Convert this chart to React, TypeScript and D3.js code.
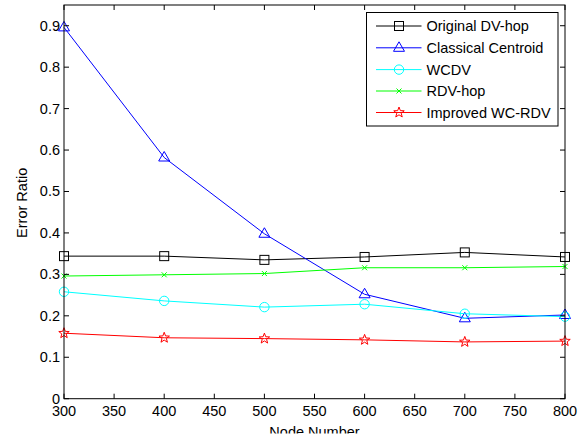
import React from "react";
import * as d3 from "d3";

const nodeNumbers = [300, 400, 500, 600, 700, 800];
const originalDVhop = [0.344, 0.344, 0.335, 0.342, 0.353, 0.342];
const classicalCentroid = [0.896, 0.582, 0.398, 0.252, 0.194, 0.202];
const wcdv = [0.258, 0.236, 0.221, 0.228, 0.205, 0.198];
const rdvHop = [0.296, 0.299, 0.302, 0.316, 0.316, 0.319];
const improvedWCRDV = [0.158, 0.147, 0.145, 0.142, 0.137, 0.139];

const xTicks = [300, 350, 400, 450, 500, 550, 600, 650, 700, 750, 800];
const yTicks = [0, 0.1, 0.2, 0.3, 0.4, 0.5, 0.6, 0.7, 0.8, 0.9];

const seriesList = [
  { name: "Original DV-hop", values: originalDVhop, color: "#000000", marker: "square" },
  { name: "Classical Centroid", values: classicalCentroid, color: "#0000ff", marker: "triangle" },
  { name: "WCDV", values: wcdv, color: "#00ffff", marker: "circle" },
  { name: "RDV-hop", values: rdvHop, color: "#00ff00", marker: "x" },
  { name: "Improved WC-RDV", values: improvedWCRDV, color: "#ff0000", marker: "star" },
];

const W = 585, H = 440;
const L = 64, R = 565, T = 5, B = 398.7;
const FONT = "'Liberation Sans', Arial, Helvetica, sans-serif";
const FS = 14.5;

function starPath(cx: number, cy: number, ro: number, ri: number) {
  const pts: string[] = [];
  for (let i = 0; i < 10; i++) {
    const r = i % 2 === 0 ? ro : ri;
    const a = -Math.PI / 2 + (i * Math.PI) / 5;
    pts.push(`${(cx + r * Math.cos(a)).toFixed(2)},${(cy + r * Math.sin(a)).toFixed(2)}`);
  }
  return "M" + pts.join("L") + "Z";
}

function Marker({ type, x, y, color }: { type: string; x: number; y: number; color: string }) {
  const sw = 1;
  if (type === "square")
    return <rect x={x - 4.5} y={y - 4.5} width={9} height={9} fill="none" stroke={color} strokeWidth={sw} />;
  if (type === "triangle")
    return (
      <path
        d={`M${x},${y - 6}L${x + 5.5},${y + 3.5}L${x - 5.5},${y + 3.5}Z`}
        fill="none"
        stroke={color}
        strokeWidth={sw}
      />
    );
  if (type === "circle") return <circle cx={x} cy={y} r={4.7} fill="none" stroke={color} strokeWidth={sw} />;
  if (type === "x")
    return (
      <path
        d={`M${x - 2.5},${y - 2.5}L${x + 2.5},${y + 2.5}M${x - 2.5},${y + 2.5}L${x + 2.5},${y - 2.5}`}
        stroke={color}
        strokeWidth={sw}
      />
    );
  return <path d={starPath(x, y, 5.5, 2.3)} fill="none" stroke={color} strokeWidth={sw} />;
}

export default function App() {
  const x = d3.scaleLinear().domain([300, 800]).range([L, R]);
  const y = d3.scaleLinear().domain([0, 0.95]).range([B, T]);
  const line = d3
    .line<number>()
    .x((_, i) => x(nodeNumbers[i]))
    .y((d) => y(d));

  const legX = 366.5, legY = 12.5, legW = 191.5, legH = 113.5;
  const rowY = [26, 47.8, 69.6, 91, 112.5];

  return (
    <svg width={W} height={H} style={{ position: "absolute", left: 0, top: 0, background: "#fff" }} fontFamily={FONT}>
      <defs>
        <clipPath id="pageClip">
          <rect x={0} y={0} width={W} height={433.5} />
        </clipPath>
      </defs>
      <rect x={0} y={0} width={W} height={H} fill="#fff" />
      {seriesList.map((s) => (
        <g key={s.name}>
          <path d={line(s.values) || ""} fill="none" stroke={s.color} strokeWidth={1} />
          {s.values.map((v, i) => (
            <Marker key={i} type={s.marker} x={x(nodeNumbers[i])} y={y(v)} color={s.color} />
          ))}
        </g>
      ))}
      {xTicks.map((t) => (
        <g key={"x" + t}>
          <line x1={x(t)} x2={x(t)} y1={B} y2={B - 5} stroke="#000" />
          <line x1={x(t)} x2={x(t)} y1={T} y2={T + 5} stroke="#000" />
          <text x={x(t)} y={416} textAnchor="middle" fontSize={FS} fill="#000">
            {t}
          </text>
        </g>
      ))}
      {yTicks.map((t) => (
        <g key={"y" + t}>
          <line x1={L} x2={L + 5} y1={y(t)} y2={y(t)} stroke="#000" />
          <line x1={R} x2={R - 5} y1={y(t)} y2={y(t)} stroke="#000" />
          <text x={60} y={y(t) + 5} textAnchor="end" fontSize={FS} fill="#000">
            {t === 0 ? "0" : t.toFixed(1)}
          </text>
        </g>
      ))}
      <rect x={L} y={T} width={R - L} height={B - T} fill="none" stroke="#000" strokeWidth={1} />
      <text x={(L + R) / 2} y={436.5} textAnchor="middle" fontSize={FS} fill="#000" clipPath="url(#pageClip)">
        Node Number
      </text>
      <text
        transform={`translate(26.5,${(T + B) / 2 + 1}) rotate(-90)`}
        textAnchor="middle"
        fontSize={FS}
        fill="#000"
      >
        Error Ratio
      </text>
      <rect x={legX} y={legY} width={legW} height={legH} fill="#fff" stroke="#000" strokeWidth={1} />
      {seriesList.map((s, i) => (
        <g key={"leg" + s.name}>
          <line x1={376} x2={421.5} y1={rowY[i]} y2={rowY[i]} stroke={s.color} strokeWidth={1} />
          <Marker type={s.marker} x={399} y={rowY[i]} color={s.color} />
          <text x={426.5} y={rowY[i] + 5} fontSize={FS} fill="#000">
            {s.name}
          </text>
        </g>
      ))}
    </svg>
  );
}
